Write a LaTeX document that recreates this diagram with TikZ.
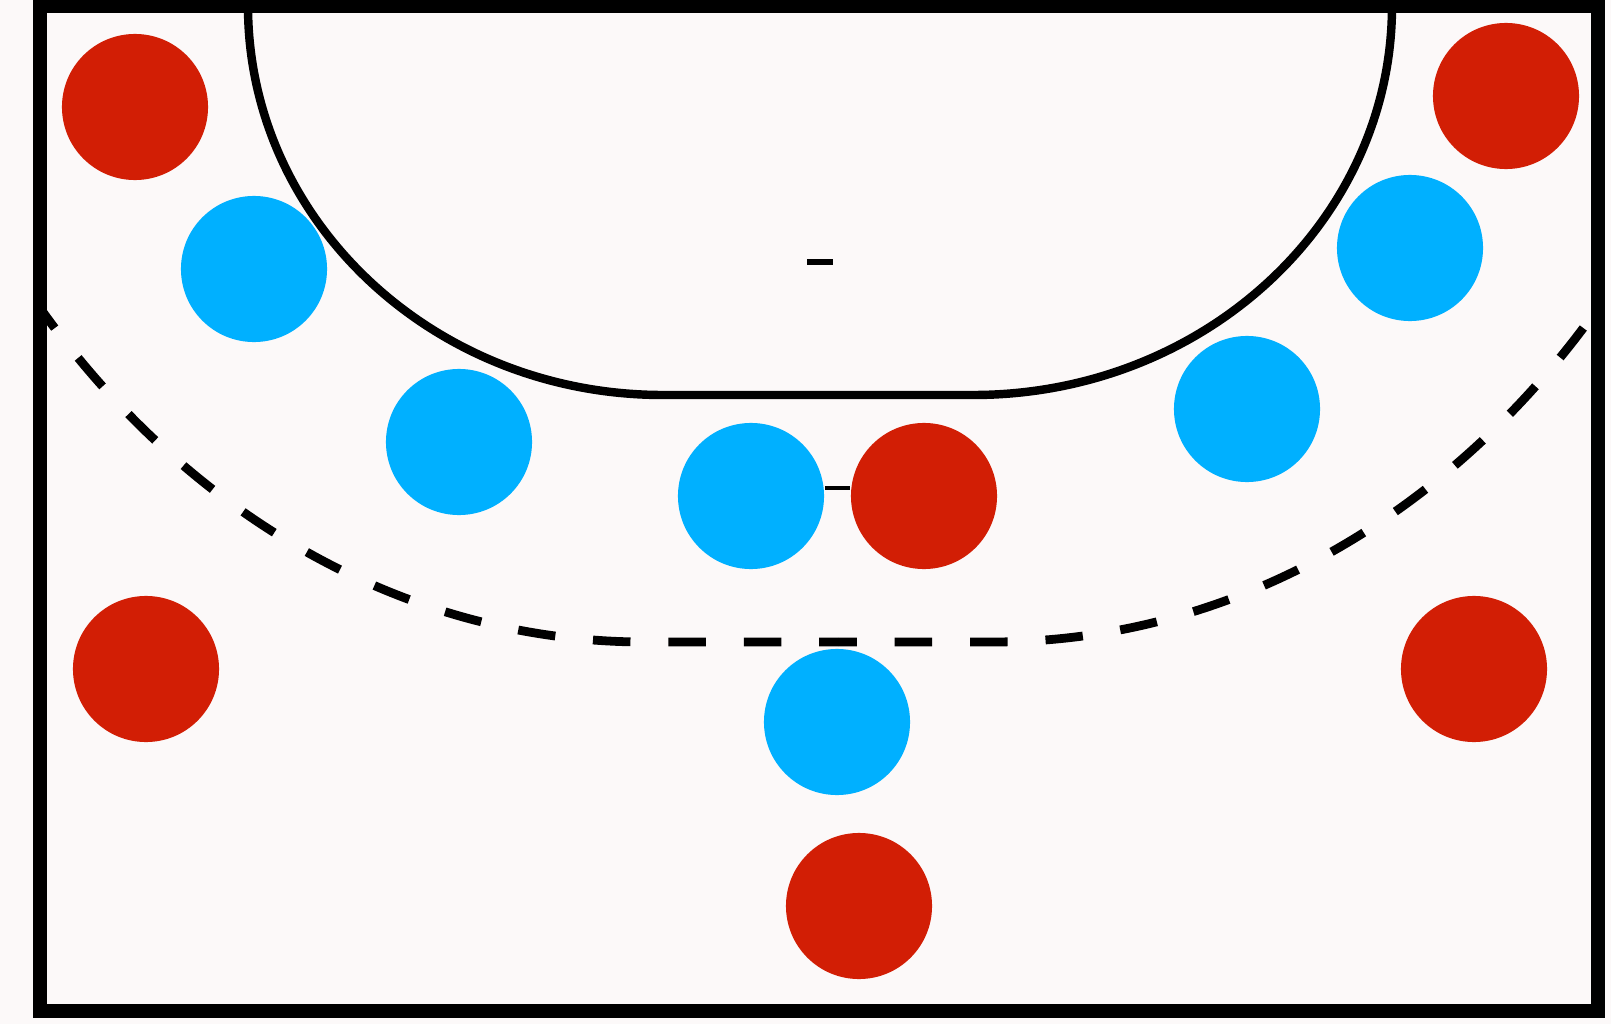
\documentclass[tikz,border=0pt]{standalone}
\definecolor{bg}{RGB}{252,249,249}
\definecolor{pred}{RGB}{210,30,5}
\definecolor{pblue}{RGB}{0,176,255}
\tikzset{
  court/.style={line width=4.1pt},
  zone/.style={line width=2.4pt},
  freethrow/.style={line width=2.5pt, dash pattern=on 10.67pt off 10.78pt, dash phase=5.33pt},
  player/.style={circle, inner sep=0pt, minimum size=1.46cm},
  redp/.style={player, fill=pred},
  bluep/.style={player, fill=pblue},
  link/.style={line width=1.2pt},
  mark7/.style={line width=1.5pt},
  post/.style={line width=0.8pt},
}
\begin{document}
\begin{tikzpicture}[x=0.01cm,y=-0.01cm]
\fill[bg] (0,0) rectangle (1611,1024);
\useasboundingbox (0,0) rectangle (1611,1024);
% goal area
\draw[zone] (248,6) arc[start angle=180,end angle=90,x radius=415,y radius=389]
  -- (973,395) arc[start angle=90,end angle=0,x radius=419,y radius=389];
% free throw line
\begin{scope}
  \clip (40,6) rectangle (1598,1011);
  \draw[freethrow] (838,642) -- (645,642) arc[start angle=90,end angle=180,x radius=792,y radius=942];
  \draw[freethrow] (838,642) -- (993,642) arc[start angle=90,end angle=0,x radius=792,y radius=942];
\end{scope}
% 7m mark
\draw[mark7] (807,262) -- (833,262);
% court border
\draw[court] (40,6) rectangle (1598,1011);
\draw[post] (697,0) -- (697,6);
\draw[post] (943,0) -- (943,6);
% players
\node[redp] (r1) at (135,107) {};
\node[redp] (r2) at (1506,96) {};
\node[redp] (r3) at (146,669) {};
\node[redp] (r4) at (1474,669) {};
\node[redp] (r5) at (924,496) {};
\node[redp] (r6) at (859,906) {};
\node[bluep] (b1) at (254,269) {};
\node[bluep] (b2) at (459,442) {};
\node[bluep] (b3) at (751,496) {};
\node[bluep] (b4) at (1247,409) {};
\node[bluep] (b5) at (1410,248) {};
\node[bluep] (b6) at (837,722) {};
\draw[link] ([yshift=0.08cm]b3.east) -- ([yshift=0.08cm]r5.west);
\end{tikzpicture}
\end{document}
